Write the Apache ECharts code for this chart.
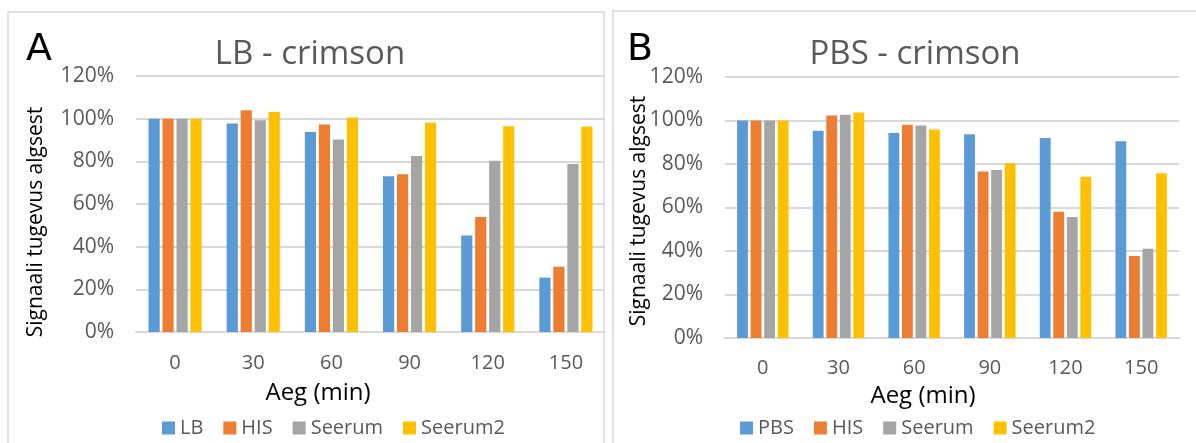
<!DOCTYPE html>
<html>
<head>
<meta charset="utf-8">
<style>
  html, body { margin: 0; padding: 0; background: #fff; }
  #chart { width: 1196px; height: 443px; }
</style>
<script src="https://cdn.jsdelivr.net/npm/echarts@6/dist/echarts.min.js"></script>
</head>
<body>
<div id="chart"></div>
<script>
// time points (min)
const categories = ['0', '30', '60', '90', '120', '150']

// panel A - LB crimson (% of starting signal)
const lbA = [100, 97.7, 93.8, 73.0, 45.2, 25.5]
const hisA = [100, 103.9, 97.3, 73.9, 53.9, 30.6]
const seerumA = [100, 99.2, 90.2, 82.5, 80.3, 78.8]
const seerum2A = [100, 103.1, 100.6, 98.1, 96.4, 96.3]

// panel B - PBS crimson
const pbsB = [100, 95.3, 94.2, 93.7, 91.9, 90.5]
const hisB = [100, 102.3, 98.0, 76.6, 58.0, 37.7]
const seerumB = [100, 102.6, 97.7, 77.2, 55.6, 41.0]
const seerum2B = [100, 103.7, 95.9, 80.4, 74.1, 75.8]

const legendA = ['LB', 'HIS', 'Seerum', 'Seerum2']
const legendB = ['PBS', 'HIS', 'Seerum', 'Seerum2']

const colors = ['#5B9BD5', '#ED7D31', '#A5A5A5', '#FFC000']
const font = '"Open Sans", "Liberation Sans", sans-serif'
const gridColor = '#d9d9d9'
const textGray = '#595959'

const chart = echarts.init(document.getElementById('chart'))

const xAxisFor = (gridIndex, margin) => ({
    type: 'category',
    gridIndex: gridIndex,
    data: categories,
    axisTick: { show: false },
    axisLine: { lineStyle: { color: gridColor, width: 2 } },
    axisLabel: { color: textGray, fontSize: 20, fontFamily: font, margin: margin }
})

const yAxisFor = (gridIndex) => ({
    type: 'value',
    gridIndex: gridIndex,
    min: 0,
    max: 120,
    interval: 20,
    axisLine: { show: false },
    axisTick: { show: false },
    splitLine: { lineStyle: { color: gridColor, width: 2 } },
    axisLabel: { color: textGray, fontSize: 21, fontFamily: font, margin: 22, formatter: '{value}%' }
})

const barSeries = (name, data, idx, axisIdx) => ({
    name: name,
    type: 'bar',
    xAxisIndex: axisIdx,
    yAxisIndex: axisIdx,
    data: data,
    barGap: '25%',
    barCategoryGap: '32%',
    itemStyle: { color: colors[idx] },
    emphasis: { disabled: true }
})

const option = {
    animation: false,
    color: colors,
    title: [
        { text: 'A', left: 21, top: 26, textStyle: { fontSize: 38, fontWeight: 'normal', color: '#000', fontFamily: '"DejaVu Sans", sans-serif' } },
        { text: 'B', left: 622, top: 26, textStyle: { fontSize: 38, fontWeight: 'normal', color: '#000', fontFamily: '"DejaVu Sans", sans-serif' } },
        { text: 'LB - crimson', left: 305, textAlign: 'center', top: 33, textStyle: { fontSize: 33, fontWeight: 'normal', color: textGray, fontFamily: font } },
        { text: 'PBS - crimson', left: 910, textAlign: 'center', top: 33, textStyle: { fontSize: 33, fontWeight: 'normal', color: textGray, fontFamily: font } }
    ],
    legend: [
        {
            data: legendA, left: 157, top: 413, icon: 'rect', itemWidth: 13, itemHeight: 13, itemGap: 20,
            selectedMode: false,
            textStyle: { color: textGray, fontSize: 20, fontFamily: font }
        },
        {
            data: legendB, left: 735, top: 413, icon: 'rect', itemWidth: 13, itemHeight: 13, itemGap: 20,
            selectedMode: false,
            textStyle: { color: textGray, fontSize: 20, fontFamily: font }
        }
    ],
    grid: [
        { left: 136, right: 591, top: 76, bottom: 111 },
        { left: 725, right: 17, top: 77, bottom: 105 }
    ],
    xAxis: [xAxisFor(0, 21), xAxisFor(1, 20)],
    yAxis: [yAxisFor(0), yAxisFor(1)],
    series: [
        barSeries('LB', lbA, 0, 0),
        barSeries('HIS', hisA, 1, 0),
        barSeries('Seerum', seerumA, 2, 0),
        barSeries('Seerum2', seerum2A, 3, 0),
        barSeries('PBS', pbsB, 0, 1),
        barSeries('HIS', hisB, 1, 1),
        barSeries('Seerum', seerumB, 2, 1),
        barSeries('Seerum2', seerum2B, 3, 1)
    ],
    graphic: [
        // panel frames
        { type: 'rect', shape: { x: 8, y: 12, width: 596, height: 450 }, style: { fill: 'none', stroke: gridColor, lineWidth: 1.5 }, silent: true },
        { type: 'rect', shape: { x: 613, y: 11, width: 600, height: 450 }, style: { fill: 'none', stroke: gridColor, lineWidth: 1.5 }, silent: true },
        // axis titles
        { type: 'text', x: 36, y: 222, rotation: Math.PI / 2, style: { text: 'Signaali tugevus algsest', fill: '#000', font: '21px ' + font, textAlign: 'center', textVerticalAlign: 'middle' } },
        { type: 'text', x: 639, y: 211, rotation: Math.PI / 2, style: { text: 'Signaali tugevus algsest', fill: '#000', font: '21px ' + font, textAlign: 'center', textVerticalAlign: 'middle' } },
        { type: 'text', x: 318, y: 393, style: { text: 'Aeg (min)', fill: '#000', font: '24px ' + font, textAlign: 'center', textVerticalAlign: 'middle' } },
        { type: 'text', x: 923, y: 396, style: { text: 'Aeg (min)', fill: '#000', font: '24px ' + font, textAlign: 'center', textVerticalAlign: 'middle' } }
    ]
}

chart.setOption(option)
</script>
</body>
</html>
